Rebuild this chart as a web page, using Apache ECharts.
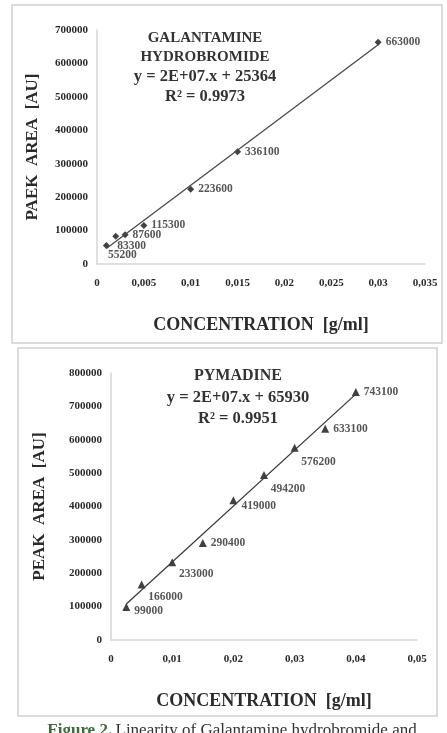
<!DOCTYPE html>
<html>
<head>
<meta charset="utf-8">
<script src="https://cdn.jsdelivr.net/npm/echarts@6/dist/echarts.min.js"></script>
<style>
  html, body { margin: 0; padding: 0; background: #fff; }
  #chart { width: 447px; height: 733px; }
</style>
</head>
<body>
<div id="chart"></div>
<script>
// galantamine hydrobromide calibration
const galConc = [0.001, 0.002, 0.003, 0.005, 0.01, 0.015, 0.03];
const galArea = [55200, 83300, 87600, 115300, 223600, 336100, 663000];
const galLabelPos = ['bottom', 'bottom', 'right', 'right', 'right', 'right', 'right'];

// pymadine calibration
const pymConc = [0.0025, 0.005, 0.01, 0.015, 0.02, 0.025, 0.03, 0.035, 0.04];
const pymArea = [99000, 166000, 233000, 290400, 419000, 494200, 576200, 633100, 743100];
const pymLabelPos = ['right', 'bottom', 'bottom', 'right', 'right', 'bottom', 'bottom', 'right', 'right'];

const galText = ['GALANTAMINE', 'HYDROBROMIDE', 'y = 2E+07.x + 25364', 'R² = 0.9973'];
const pymText = ['PYMADINE', 'y = 2E+07.x + 65930', 'R² = 0.9951'];

const serif = '"Liberation Serif", "DejaVu Serif", serif';
const ink = '#2a2a2a';

// least squares fit, drawn between first and last concentration
function fitLine(xs, ys) {
  const n = xs.length;
  const mx = xs.reduce((a, b) => a + b, 0) / n;
  const my = ys.reduce((a, b) => a + b, 0) / n;
  let sxy = 0, sxx = 0;
  xs.forEach((x, i) => { sxy += (x - mx) * (ys[i] - my); sxx += (x - mx) * (x - mx); });
  const b = sxy / sxx, a = my - b * mx;
  const x0 = Math.min(...xs), x1 = Math.max(...xs);
  return [[x0, a + b * x0], [x1, a + b * x1]];
}

function pts(xs, ys, pos, offs) {
  return xs.map((x, i) => ({
    value: [x, ys[i]],
    label: { position: pos[i], offset: offs ? offs[i] : [0, 0] }
  }));
}

const tickFont = { fontFamily: serif, fontWeight: 'bold', fontSize: 11, color: ink };
const comma = v => String(+v.toFixed(3)).replace('.', ',');

function xAxis(gi, max, interval) {
  return {
    gridIndex: gi, type: 'value', min: 0, max: max, interval: interval,
    axisLine: { show: true, lineStyle: { color: '#d6d6d6', width: 1.5 } },
    axisTick: { show: false }, splitLine: { show: false },
    axisLabel: Object.assign({ margin: 14, formatter: comma }, tickFont),
    name: 'CONCENTRATION  [g/ml]', nameLocation: 'middle', nameGap: 52,
    nameTextStyle: { fontFamily: serif, fontWeight: 'bold', fontSize: 18, color: ink }
  };
}
function yAxis(gi, max, name, gap) {
  return {
    gridIndex: gi, type: 'value', min: 0, max: max, interval: 100000,
    axisLine: { show: true, lineStyle: { color: '#d6d6d6', width: 1.5 } },
    axisTick: { show: false }, splitLine: { show: false },
    axisLabel: Object.assign({ margin: 9, formatter: v => String(v) }, tickFont),
    name: name, nameLocation: 'middle', nameGap: gap, nameRotate: 90,
    nameTextStyle: { fontFamily: serif, fontWeight: 'bold', fontSize: 17, color: ink }
  };
}

const labelStyle = { show: true, formatter: p => String(p.value[1]), fontFamily: serif, fontWeight: 'bold', fontSize: 11.5, color: ink, distance: 4 };

function textBlock(lines, cx, y0, step, sizes) {
  return lines.map((t, i) => ({
    type: 'text', x: cx, y: y0 + i * step,
    style: { text: t, x: 0, y: 0, align: 'center', verticalAlign: 'middle',
             font: 'bold ' + sizes[i] + 'px ' + serif, fill: '#333' }
  }));
}

const chart = echarts.init(document.getElementById('chart'));
chart.setOption({
  animation: false,
  grid: [
    { left: 97, right: 22, top: 30, height: 234 },
    { left: 111, right: 30, top: 373, height: 267 }
  ],
  xAxis: [xAxis(0, 0.035, 0.005), xAxis(1, 0.05, 0.01)],
  yAxis: [yAxis(0, 700000, 'PAEK  AREA  [AU]', 56), yAxis(1, 800000, 'PEAK  AREA  [AU]', 63)],
  series: [
    { type: 'line', xAxisIndex: 0, yAxisIndex: 0, data: fitLine(galConc, galArea), showSymbol: false,
      lineStyle: { color: '#4a4a4a', width: 1.3 }, silent: true },
    { type: 'scatter', xAxisIndex: 0, yAxisIndex: 0, symbol: 'diamond', symbolSize: 7,
      itemStyle: { color: '#111' }, label: labelStyle,
      data: pts(galConc, galArea, galLabelPos, [[16, -4], [16, -4], [0, 0], [0, 0], [0, 0], [0, 0], [0, 0]]) },
    { type: 'line', xAxisIndex: 1, yAxisIndex: 1, data: fitLine(pymConc, pymArea), showSymbol: false,
      lineStyle: { color: '#3a3a3a', width: 1.3 }, silent: true },
    { type: 'scatter', xAxisIndex: 1, yAxisIndex: 1, symbol: 'triangle', symbolSize: 8,
      itemStyle: { color: '#111' }, label: labelStyle,
      data: pts(pymConc, pymArea, pymLabelPos, [[0, 4], [24, -2], [24, -2], [0, 0], [0, 6], [24, 0], [24, 0], [0, 0], [0, 0]]) }
  ],
  graphic: [
    { type: 'rect', shape: { x: 12, y: 5, width: 430, height: 338 }, style: { fill: 'none', stroke: '#cfcfcf', lineWidth: 1.5 }, z: -1 },
    { type: 'rect', shape: { x: 18, y: 348, width: 419, height: 368 }, style: { fill: 'none', stroke: '#cfcfcf', lineWidth: 1.5 }, z: -1 },
    ...textBlock(galText, 205, 38, 19.5, [15, 15, 16.5, 16.5]),
    ...textBlock(pymText, 238, 376, 21.5, [16, 16.5, 16.5]),
    { type: 'text', x: 232, y: 731,
      style: { text: '{a|Figure 2.} {b|Linearity of Galantamine hydrobromide and}', x: 0, y: 0, align: 'center', verticalAlign: 'middle',
        rich: {
          a: { fontFamily: serif, fontWeight: 'bold', fontSize: 17, fill: '#3d6b3a', color: '#3d6b3a' },
          b: { fontFamily: serif, fontSize: 17, fill: '#333', color: '#333' }
        } } }
  ]
});
</script>
</body>
</html>
